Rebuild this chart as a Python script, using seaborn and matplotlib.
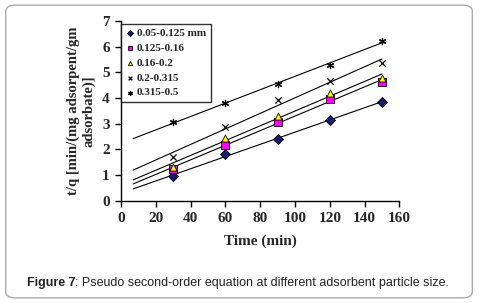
import numpy as np
import pandas as pd
import seaborn as sns
from matplotlib import pyplot as plt
from matplotlib.patches import FancyBboxPatch

# data
time_min = [30, 60, 90, 120, 150]
sizes = ['0.05-0.125 mm', '0.125-0.16', '0.16-0.2', '0.2-0.315', '0.315-0.5']
tq_005 = [0.95, 1.81, 2.39, 3.14, 3.85]
tq_0125 = [1.23, 2.18, 3.07, 3.95, 4.61]
tq_016 = [1.32, 2.43, 3.30, 4.18, 4.77]
tq_02 = [1.71, 2.86, 3.92, 4.66, 5.35]
tq_0315 = [3.05, 3.81, 4.53, 5.28, 6.23]
fit_range = [7, 150]

series = [tq_005, tq_0125, tq_016, tq_02, tq_0315]
df = pd.DataFrame({
    'time': time_min * len(sizes),
    'tq': np.concatenate(series),
    'size': np.repeat(sizes, len(time_min)),
})

sns.set_style('ticks')
plt.rcParams['font.family'] = ['Liberation Serif', 'DejaVu Serif']

fig = plt.figure(figsize=(4.8, 3.03), dpi=100)
ax = fig.add_axes([0.252, 0.338, 0.580, 0.593])

# rounded frame around the figure
frame = FancyBboxPatch((0.012, 0.017), 0.972, 0.966, boxstyle='round,pad=0,rounding_size=0.02',
                       transform=fig.transFigure, fill=False, edgecolor='#aaaaaa', linewidth=1.0)
fig.patches.append(frame)

# trend lines
for vals in series:
    k, b = np.polyfit(time_min, vals, 1)
    xs = np.array(fit_range)
    sns.lineplot(x=xs, y=k * xs + b, ax=ax, color='black', linewidth=0.8, legend=False)

markers = {sizes[0]: 'D', sizes[1]: 's', sizes[2]: '^', sizes[3]: 'x', sizes[4]: (6, 2, 0)}
palette = {sizes[0]: '#1a1a6e', sizes[1]: '#ff00ff', sizes[2]: '#ffff00', sizes[3]: 'black', sizes[4]: 'black'}
for s in sizes:
    sub = df[df['size'] == s]
    filled = s in sizes[:3]
    sns.scatterplot(data=sub, x='time', y='tq', ax=ax, marker=markers[s], color=palette[s],
                    edgecolor='black' if filled else None, linewidth=0.6 if filled else 0.9,
                    s=26 if filled else 20, label=s, zorder=3)

ax.set_xlim(0, 160)
ax.set_ylim(0, 7)
ax.set_xticks(range(0, 161, 20))
ax.set_yticks(range(0, 8))
ax.tick_params(direction='out', length=4, width=1, labelsize=11, pad=4, color='black')
for lab in ax.get_xticklabels() + ax.get_yticklabels():
    lab.set_fontweight('bold')
for sp in ['left', 'bottom']:
    ax.spines[sp].set_color('black')
    ax.spines[sp].set_linewidth(1)
sns.despine(ax=ax)

ax.set_xlabel('Time (min)', fontsize=11, fontweight='bold', labelpad=7)
ax.set_ylabel('t/q [min/(mg adsorpent/gm\nadsorbate)]', fontsize=10.5, fontweight='bold', labelpad=5)

leg = ax.legend(loc='upper left', bbox_to_anchor=(0.0, 0.985), borderaxespad=0, frameon=True,
                fancybox=False, prop={'weight': 'bold', 'size': 8}, handletextpad=0.2,
                borderpad=0.45, labelspacing=0.45, markerscale=0.6, handlelength=0.8)
leg.get_frame().set_edgecolor('black')
leg.get_frame().set_linewidth(1.0)

# caption
cap = fig.text(0.056, 0.055, 'Figure 7', fontsize=9, fontweight='bold', family='Liberation Sans',
               color='#222222')
ax.annotate(': Pseudo second-order equation at different adsorbent particle size.',
            xy=(1, 0), xycoords=cap, va='bottom', ha='left', fontsize=9,
            family='Liberation Sans', color='#222222', annotation_clip=False)

fig.savefig('out.png', dpi=100)
